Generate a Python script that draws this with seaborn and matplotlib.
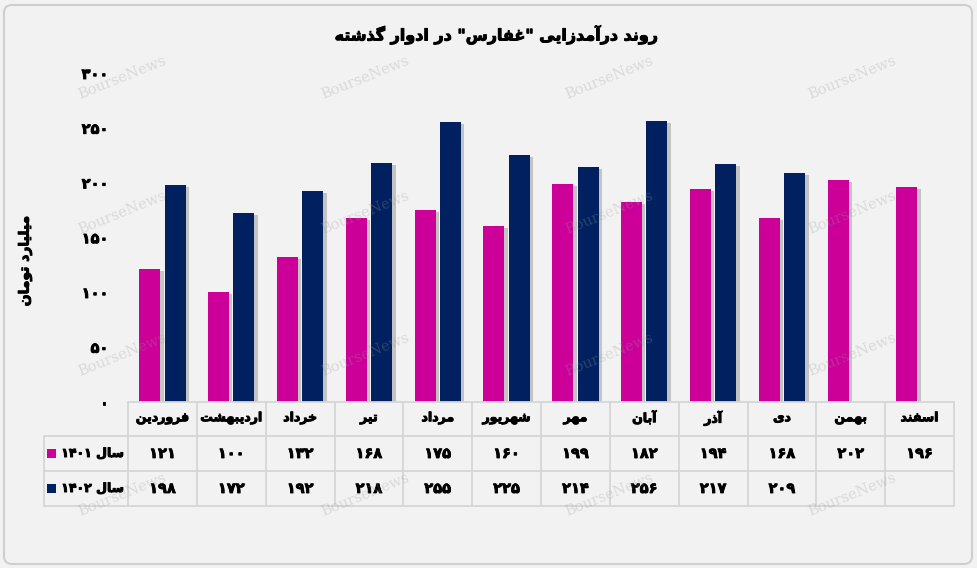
import matplotlib
matplotlib.use("Agg")
import matplotlib.pyplot as plt
import seaborn as sns
import pandas as pd
import numpy as np
from matplotlib.lines import Line2D
from matplotlib.patches import Rectangle, FancyBboxPatch
import matplotlib.patheffects as pe
import matplotlib.transforms as mtrans

# ---------------- data ----------------
months = ['فروردین', 'اردیبهشت', 'خرداد', 'تیر', 'مرداد', 'شهریور',
          'مهر', 'آبان', 'آذر', 'دی', 'بهمن', 'اسفند']
years = ['1401', '1402']
rev_1401 = [121, 100, 132, 168, 175, 160, 199, 182, 194, 168, 202, 196]
rev_1402 = [198, 172, 192, 218, 255, 225, 214, 256, 217, 209, None, None]
y_ticks = [0, 50, 100, 150, 200, 250, 300]
title = 'روند درآمدزایی "غفارس" در ادوار گذشته'
ylabel = 'میلیارد تومان'
series_prefix = 'سال'
watermark = 'BourseNews'
colors = ['#cc0099', '#002060']

# ---------------- Persian shaping helpers ----------------
FORMS = {
    '\u0627': ('\uFE8D', '\uFE8E'),
    '\u0622': ('\uFE81', '\uFE82'),
    '\u0628': ('\uFE8F', '\uFE90', '\uFE91', '\uFE92'),
    '\u062A': ('\uFE95', '\uFE96', '\uFE97', '\uFE98'),
    '\u062E': ('\uFEA5', '\uFEA6', '\uFEA7', '\uFEA8'),
    '\u062F': ('\uFEA9', '\uFEAA'),
    '\u0630': ('\uFEAB', '\uFEAC'),
    '\u0631': ('\uFEAD', '\uFEAE'),
    '\u0632': ('\uFEAF', '\uFEB0'),
    '\u0633': ('\uFEB1', '\uFEB2', '\uFEB3', '\uFEB4'),
    '\u0634': ('\uFEB5', '\uFEB6', '\uFEB7', '\uFEB8'),
    '\u063A': ('\uFECD', '\uFECE', '\uFECF', '\uFED0'),
    '\u0641': ('\uFED1', '\uFED2', '\uFED3', '\uFED4'),
    '\u0644': ('\uFEDD', '\uFEDE', '\uFEDF', '\uFEE0'),
    '\u0645': ('\uFEE1', '\uFEE2', '\uFEE3', '\uFEE4'),
    '\u0646': ('\uFEE5', '\uFEE6', '\uFEE7', '\uFEE8'),
    '\u0647': ('\uFEE9', '\uFEEA', '\uFEEB', '\uFEEC'),
    '\u0648': ('\uFEED', '\uFEEE'),
    '\u06CC': ('\uFBFC', '\uFBFD', '\uFBFE', '\uFBFF'),
    '\u06AF': ('\uFB92', '\uFB93', '\uFB94', '\uFB95'),
}


def shape(s):
    s = s.replace('\u064A', '\u06CC').replace('\u0649', '\u06CC')
    out = []
    for i, c in enumerate(s):
        f = FORMS.get(c)
        if f is None:
            out.append(c)
            continue
        prev = s[i - 1] if i > 0 else None
        nxt = s[i + 1] if i + 1 < len(s) else None
        jp = prev in FORMS and len(FORMS[prev]) == 4
        jn = len(f) == 4 and nxt in FORMS
        if jp and jn:
            out.append(f[3])
        elif jp:
            out.append(f[1])
        elif jn:
            out.append(f[2])
        else:
            out.append(f[0])
    return ''.join(out)


def rtl(s):
    return shape(s)[::-1]


FA = str.maketrans('0123456789', '۰۱۲۳۴۵۶۷۸۹')


def fa(v):
    return str(v).translate(FA)


BOLD = [pe.withStroke(linewidth=0.7, foreground='black')]
DIGB = [pe.withStroke(linewidth=0.6, foreground='black')]

# ---------------- figure ----------------
sns.set_theme(style='white')
plt.rcParams['font.family'] = ['DejaVu Sans']
plt.rcParams['font.weight'] = 'bold'

W, H = 977, 568
fig = plt.figure(figsize=(W / 100, H / 100), dpi=100)
fig.patch.set_facecolor('#f2f2f2')

L, R, T, B = 128, 954, 73, 401.5
ax = fig.add_axes([L / W, 1 - B / H, (R - L) / W, (B - T) / H])
ax.set_facecolor('none')

rows = []
for m, a, b in zip(months, rev_1401, rev_1402):
    if a is not None:
        rows.append({'month': m, 'year': years[0], 'value': a})
    if b is not None:
        rows.append({'month': m, 'year': years[1], 'value': b})
df = pd.DataFrame(rows)

sns.barplot(data=df, x='month', y='value', hue='year', order=months,
            hue_order=years, palette=colors, width=0.74, gap=0.175,
            errorbar=None, legend=False, saturation=1, ax=ax)
for p in ax.patches:
    p.set_linewidth(0)
    p.set_path_effects([pe.SimplePatchShadow(offset=(2.5, -1.5),
                                             shadow_rgbFace='#8a8a8a', alpha=0.45),
                        pe.Normal()])

ax.set_xlim(-0.5, len(months) - 0.5)
ax.set_ylim(0, 300)
ax.set_yticks(y_ticks)
ax.set_yticklabels([fa(t) for t in y_ticks], fontsize=10.5, fontweight='bold')
for t in ax.get_yticklabels():
    t.set_path_effects(DIGB)
ax.tick_params(axis='y', length=0, pad=14, colors='black')
ax.set_xticks([])
ax.set_xlabel('')
ax.set_ylabel('')
for s in ax.spines.values():
    s.set_visible(False)


def fx(x):
    return x / W


def fy(y):
    return 1 - y / H


# ---------------- data table ----------------
gc = '#d6d6d6'
lw = 1.3
row_y = [401.5, 436, 471, 506]
label_left = 44
col_px = [L + (R - L) * i / len(months) for i in range(len(months) + 1)]

fig.add_artist(Line2D([fx(L), fx(R)], [fy(row_y[0])] * 2, color=gc, lw=lw))
for yy in row_y[1:]:
    fig.add_artist(Line2D([fx(label_left), fx(R)], [fy(yy)] * 2, color=gc, lw=lw))
for xx in col_px:
    fig.add_artist(Line2D([fx(xx)] * 2, [fy(row_y[0]), fy(row_y[-1])], color=gc, lw=lw))
fig.add_artist(Line2D([fx(label_left)] * 2, [fy(row_y[1]), fy(row_y[-1])], color=gc, lw=lw))

trans = mtrans.blended_transform_factory(ax.transData, fig.transFigure)
yc = [(row_y[i] + row_y[i + 1]) / 2 for i in range(3)]
for i, m in enumerate(months):
    ax.text(i, fy(yc[0] - 1), rtl(m), transform=trans, ha='center', va='center',
            fontsize=9, fontweight='bold', color='black', path_effects=BOLD)
    for r, series in enumerate([rev_1401, rev_1402]):
        v = series[i]
        if v is not None:
            ax.text(i, fy(yc[r + 1]), fa(v), transform=trans, ha='center',
                    va='center', fontsize=10.5, fontweight='bold', color='black',
                    path_effects=DIGB)

for r, (yr, col) in enumerate(zip(years, colors)):
    fig.add_artist(Rectangle((fx(47), fy(yc[r + 1] + 4.5)), 9 / W, 9 / H,
                             transform=fig.transFigure, facecolor=col, edgecolor='none'))
    fig.text(fx(124), fy(yc[r + 1]), fa(yr) + ' ' + rtl(series_prefix),
             ha='right', va='center', fontsize=9, fontweight='bold', color='black',
             path_effects=BOLD)

# ---------------- titles ----------------
fig.text(fx(497), fy(35), rtl(title), ha='center', va='center',
         fontsize=11.5, fontweight='bold', color='black', path_effects=BOLD)
fig.text(fx(25), fy(261), rtl(ylabel), ha='center', va='center', rotation=90,
         fontsize=10, fontweight='bold', color='black', path_effects=BOLD)

# ---------------- watermark ----------------
for wy in [78, 213, 355, 495]:
    for wx in [122, 365, 609, 852]:
        fig.text(fx(wx), fy(wy), watermark, ha='center', va='center', rotation=22,
                 fontsize=10.5, family='DejaVu Serif', fontweight='normal',
                 color='#9a9a9a', alpha=0.28, zorder=10)

# ---------------- border ----------------
fig.add_artist(FancyBboxPatch((4, 4), W - 9, H - 9,
                              boxstyle='round,pad=0,rounding_size=8',
                              transform=None, facecolor='none',
                              edgecolor='#cfcfcf', lw=1.5))

fig.savefig('out.png', dpi=100, facecolor=fig.get_facecolor())
